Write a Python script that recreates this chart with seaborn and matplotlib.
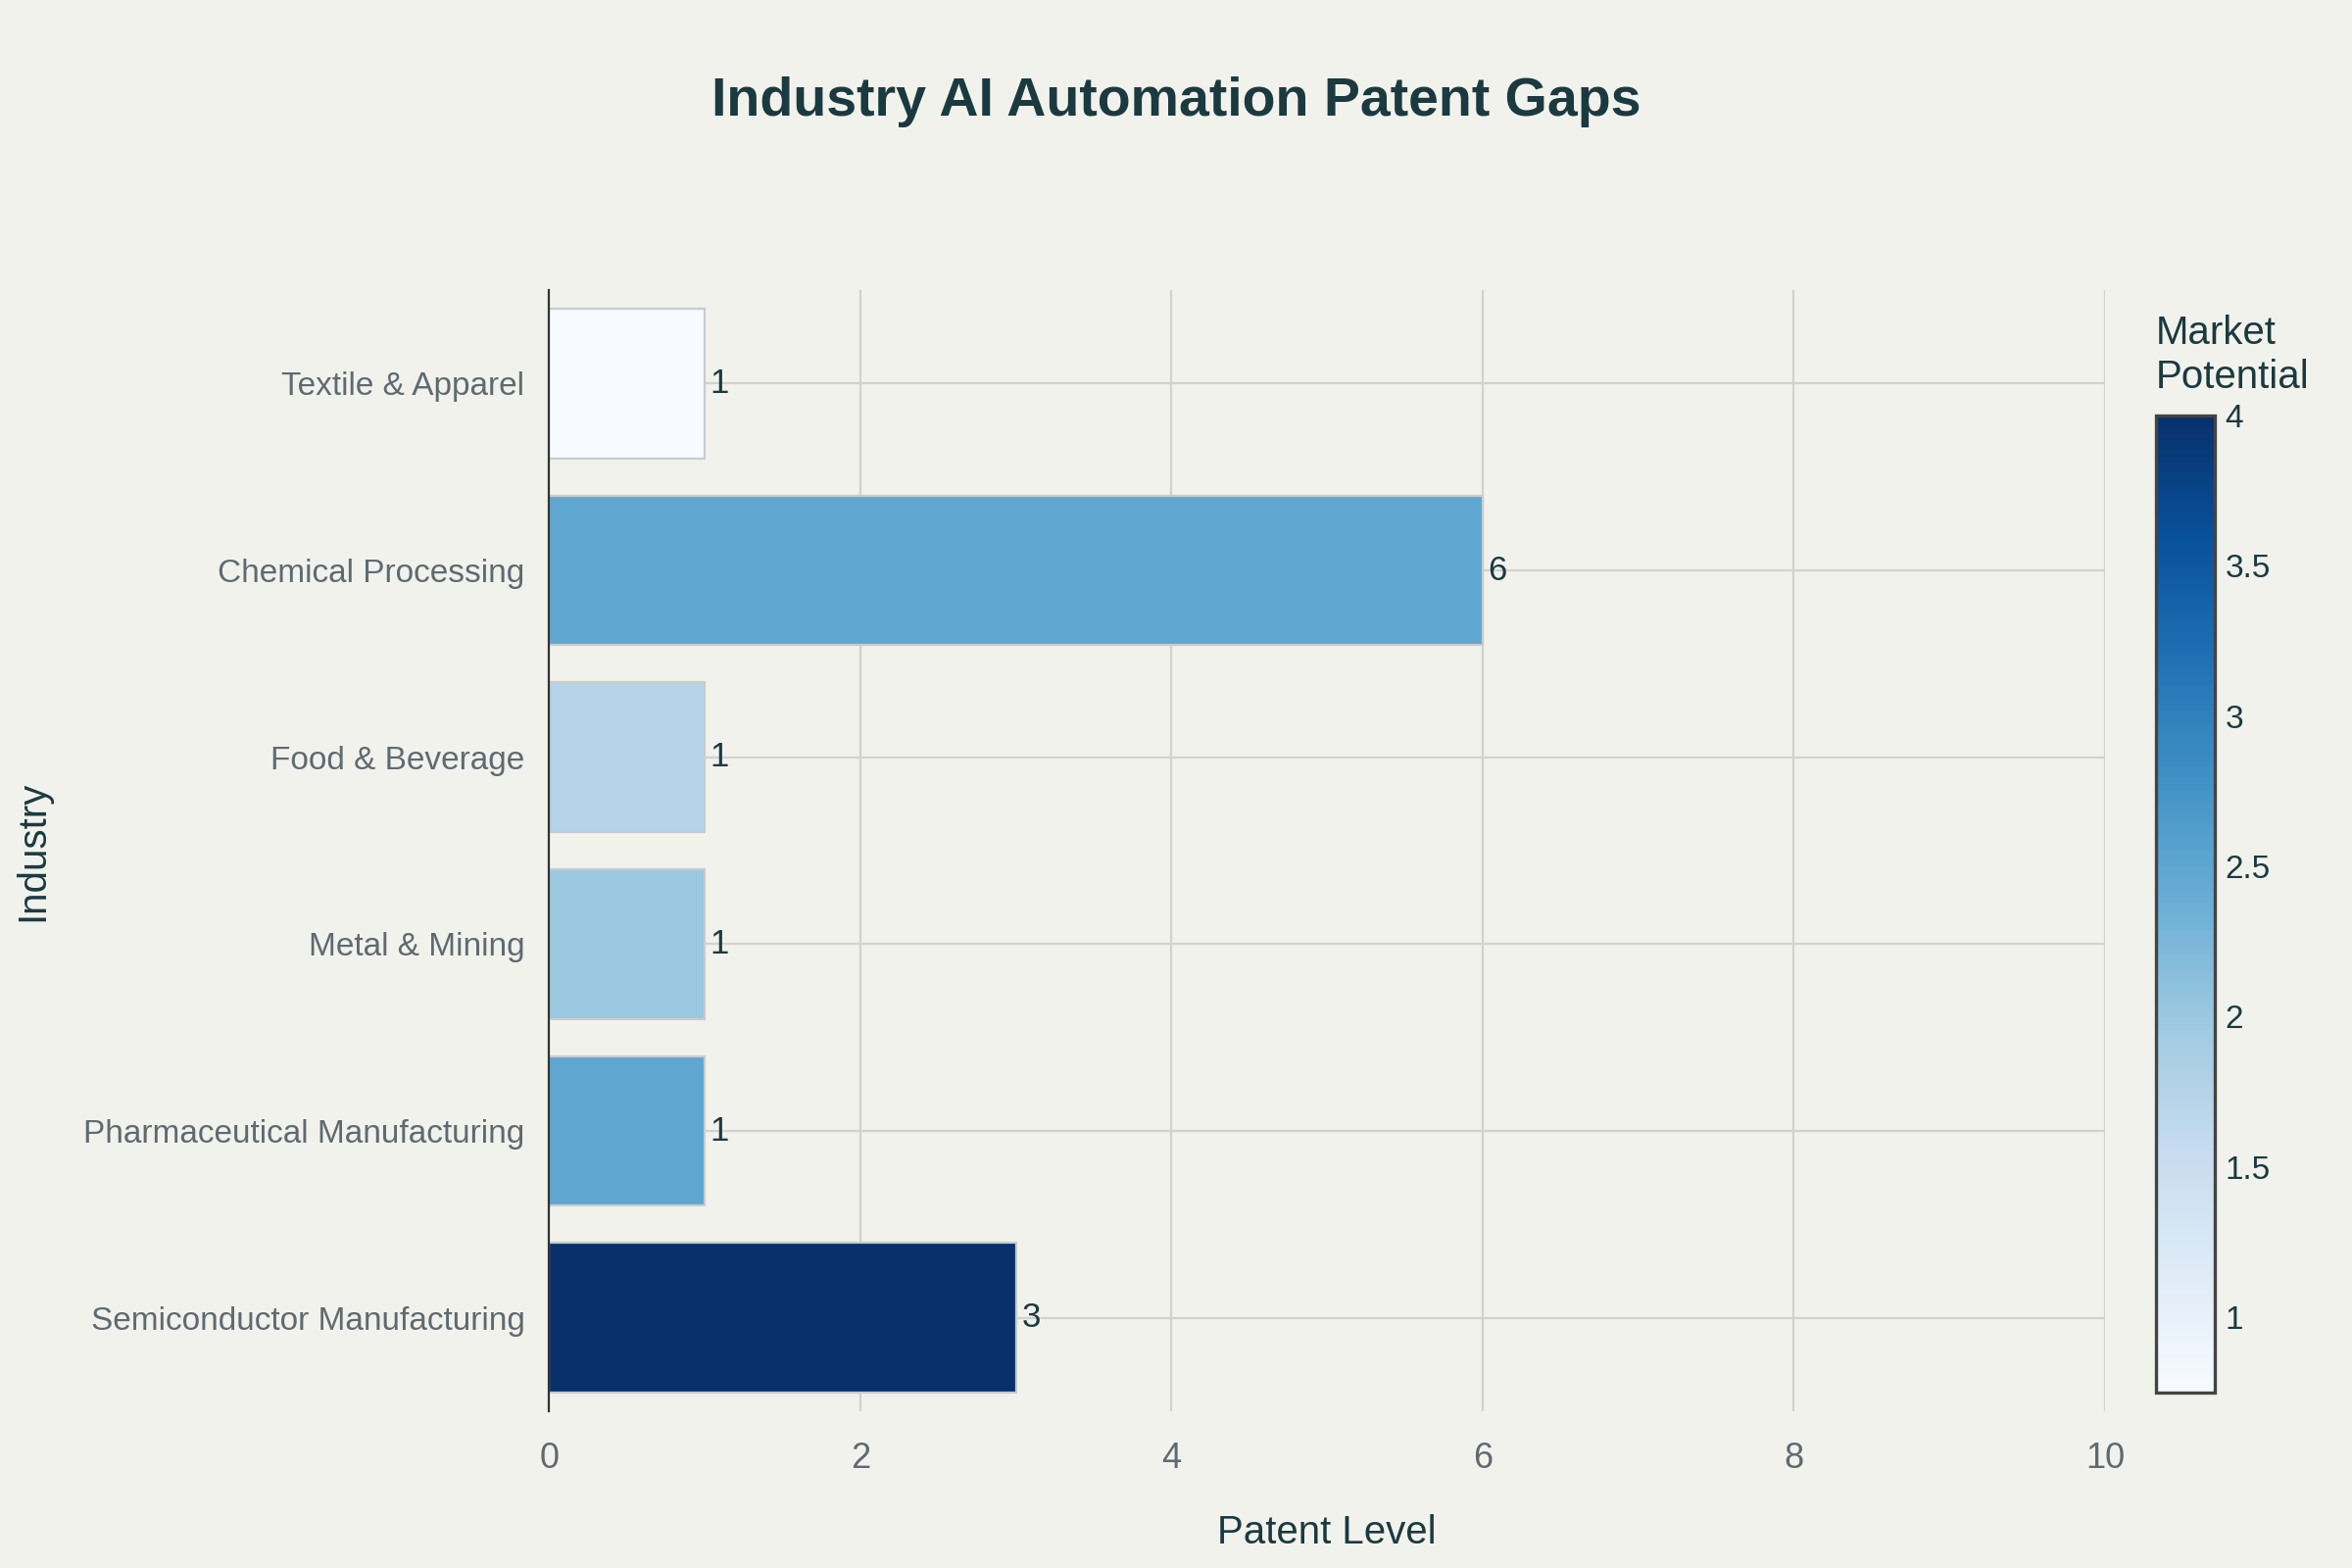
import numpy as np
import pandas as pd
import matplotlib
matplotlib.use("Agg")
import matplotlib.pyplot as plt
import seaborn as sns
from matplotlib import cm, colors

industries = ["Textile & Apparel", "Chemical Processing", "Food & Beverage",
              "Metal & Mining", "Pharmaceutical Manufacturing", "Semiconductor Manufacturing"]
patent_level = [1, 6, 1, 1, 1, 3]
market_potential = [0.75, 2.5, 1.75, 2.0, 2.5, 4.0]
cbar_ticks = [1, 1.5, 2, 2.5, 3, 3.5, 4]

BG = "#f2f2ed"
DARK = "#1b3a40"
GREY = "#5f6a70"
GRID = "#d4d2cd"

sns.set_theme(style="white")
plt.rcParams["font.family"] = ["Liberation Sans", "DejaVu Sans"]

df = pd.DataFrame({"Industry": industries, "Patent Level": patent_level,
                   "Market Potential": market_potential})

cmap = plt.get_cmap("Blues")
norm = colors.Normalize(vmin=min(market_potential), vmax=max(market_potential))
palette = {ind: cmap(norm(v)) for ind, v in zip(industries, market_potential)}

fig = plt.figure(figsize=(12, 8), dpi=200, facecolor=BG)
ax = fig.add_axes([0.2335, 0.10, 0.6615, 0.715])
ax.set_facecolor(BG)

sns.barplot(data=df, x="Patent Level", y="Industry", hue="Industry", palette=palette,
            order=industries, legend=False, width=0.8, saturation=1, ax=ax,
            edgecolor="#c8cccf", linewidth=0.8)

# grid behind bars (seaborn switches off the categorical grid, so set it after)
ax.set_axisbelow(True)
ax.xaxis.grid(True, color=GRID, linewidth=0.8)
ax.yaxis.grid(True, color=GRID, linewidth=0.8)

for c in ax.containers:
    ax.bar_label(c, labels=[f"{int(v)}" for v in c.datavalues], padding=2,
                 fontsize=12.5, color=DARK)

ax.set_xlim(0, 10)
ax.set_ylim(len(industries) - 0.5, -0.5)
ax.set_xticks(range(0, 11, 2))
ax.tick_params(axis="both", colors=GRID, length=5, width=0.8, pad=4)
ax.tick_params(axis="y", labelsize=12)
ax.tick_params(axis="x", labelsize=13, pad=6)
for lbl in ax.get_xticklabels() + ax.get_yticklabels():
    lbl.set_color(GREY)

for side in ["top", "right", "bottom"]:
    ax.spines[side].set_visible(False)
ax.spines["left"].set_color("#333333")
ax.spines["left"].set_linewidth(0.8)

ax.set_xlabel("Patent Level", fontsize=14.5, color=DARK)
ax.xaxis.set_label_coords(0.5, -0.092)
ax.set_ylabel("Industry", fontsize=14.5, color=DARK)
ax.yaxis.set_label_coords(-0.32, 0.5)

fig.suptitle("Industry AI Automation Patent Gaps", x=0.5, y=0.951,
             fontsize=20, fontweight="bold", color=DARK)

# colorbar
cax = fig.add_axes([0.9165, 0.112, 0.025, 0.623])
sm = cm.ScalarMappable(norm=norm, cmap=cmap)
cb = fig.colorbar(sm, cax=cax, ticks=cbar_ticks)
cb.ax.set_yticklabels([f"{t:g}" for t in cbar_ticks])
cb.ax.tick_params(labelsize=12, labelcolor=DARK, length=0, pad=4)
cb.outline.set_edgecolor("#444444")
cb.outline.set_linewidth(1.2)
cax.text(0.0, 1.02, "Market\nPotential", transform=cax.transAxes, ha="left", va="bottom",
         fontsize=14.5, color=DARK, linespacing=1.25)

fig.savefig("out.png", dpi=200, facecolor=BG)
